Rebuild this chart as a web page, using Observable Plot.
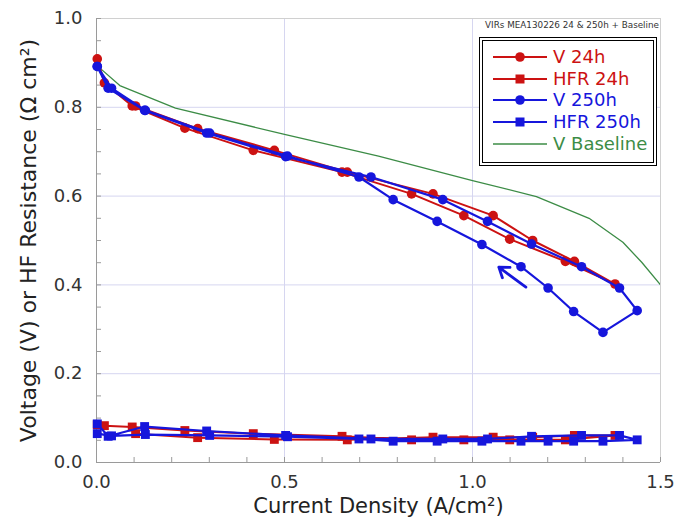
<!DOCTYPE html>
<html>
<head>
<meta charset="utf-8">
<script src="https://cdn.jsdelivr.net/npm/d3@7"></script>
<script src="https://cdn.jsdelivr.net/npm/@observablehq/plot@0.6"></script>
<style>
  html, body { margin: 0; padding: 0; background: #fff; }
  #wrap { position: relative; width: 691px; height: 521px; font-family: "DejaVu Sans", sans-serif; }
  #note { position: absolute; left: 484px; top: 20px; width: 175px; text-align: right; font-size: 8.8px; color: #333; white-space: nowrap; }
  #legend { position: absolute; left: 479px; top: 37px; width: 170px; height: 121px; border: 4px double #000; box-sizing: content-box; background: #fff; }
  .row { position: absolute; left: 8px; height: 22px; display: flex; align-items: center; }
  .row svg { width: 58px; height: 22px; }
  .row span { font-size: 18px; margin-left: 4px; line-height: 22px; }
</style>
</head>
<body>
<div id="wrap"></div>
<script>
// ---- data ----
const red = "#cc1212";
const blue = "#1616dc";
const green = "#3c8c46";

const v24_x = [0.002, 0.021, 0.095, 0.235, 0.417, 0.653, 0.838, 0.977, 1.099, 1.247, 1.379, 1.271, 1.160, 1.055, 0.895, 0.667, 0.473, 0.269, 0.104];
const v24_y = [0.909, 0.855, 0.803, 0.753, 0.703, 0.654, 0.605, 0.556, 0.503, 0.453, 0.402, 0.453, 0.500, 0.556, 0.605, 0.654, 0.703, 0.752, 0.803];
const hfr24_y = [0.085, 0.083, 0.080, 0.072, 0.065, 0.059, 0.051, 0.051, 0.051, 0.051, 0.061, 0.061, 0.057, 0.057, 0.057, 0.051, 0.052, 0.056, 0.065];

const v250_x = [0.002, 0.031, 0.128, 0.293, 0.503, 0.730, 0.921, 1.040, 1.157, 1.290, 1.391, 1.438, 1.347, 1.269, 1.201, 1.129, 1.025, 0.906, 0.789, 0.698, 0.508, 0.301, 0.130, 0.040, 0.002];
const v250_y = [0.892, 0.843, 0.793, 0.742, 0.689, 0.643, 0.592, 0.543, 0.492, 0.441, 0.393, 0.342, 0.293, 0.340, 0.393, 0.441, 0.491, 0.543, 0.592, 0.643, 0.690, 0.742, 0.793, 0.843, 0.892];
const hfr250_y = [0.087, 0.059, 0.081, 0.071, 0.061, 0.053, 0.053, 0.053, 0.059, 0.061, 0.061, 0.051, 0.048, 0.048, 0.048, 0.048, 0.048, 0.048, 0.048, 0.053, 0.058, 0.061, 0.063, 0.060, 0.065];

const base_x = [0.0, 0.062, 0.21, 0.5, 0.75, 1.0, 1.17, 1.31, 1.40, 1.45, 1.50];
const base_y = [0.895, 0.849, 0.798, 0.739, 0.690, 0.635, 0.599, 0.550, 0.496, 0.451, 0.400];

const arrowData = [{x1: 1.142, y1: 0.395, x2: 1.070, y2: 0.440}];

const xTicks = [0, 0.5, 1.0, 1.5];
const yTicks = [0, 0.2, 0.4, 0.6, 0.8, 1.0];
const xMinor = d3.range(0, 16).map(i => i / 10);
const yMinor = d3.range(0, 21).map(i => i / 20);
const xGrid = [0.5, 1.0];
const yGrid = [0.2, 0.4, 0.6, 0.8];

const legendItems = [
  {label: "V 24h", color: red, symbol: "circle"},
  {label: "HFR 24h", color: red, symbol: "square"},
  {label: "V 250h", color: blue, symbol: "circle"},
  {label: "HFR 250h", color: blue, symbol: "square"},
  {label: "V Baseline", color: green, symbol: null}
];

// ---- tables ----
const tbl = (xs, ys) => xs.map((x, i) => ({x, y: ys[i]}));
const v24 = tbl(v24_x, v24_y);
const hfr24 = tbl(v24_x, hfr24_y);
const v250 = tbl(v250_x, v250_y);
const hfr250 = tbl(v250_x, hfr250_y);
const base = tbl(base_x, base_y);

const chart = Plot.plot({
  width: 691,
  height: 521,
  marginLeft: 96,
  marginRight: 31,
  marginTop: 18,
  marginBottom: 59,
  style: {fontFamily: "DejaVu Sans, sans-serif", background: "#fff", color: "#333"},
  x: {domain: [0, 1.5]},
  y: {domain: [0, 1]},
  marks: [
    Plot.ruleX(xGrid, {stroke: "#d6d6f0", strokeWidth: 1}),
    Plot.ruleY(yGrid, {stroke: "#d6d6f0", strokeWidth: 1}),
    Plot.ruleY([1], {stroke: "#d0d0d0"}),
    Plot.ruleX([1.5], {stroke: "#d0d0d0"}),
    Plot.ruleX([0], {stroke: "#9a9a9a"}),
    Plot.ruleY([0], {stroke: "#9a9a9a"}),
    Plot.axisX({ticks: xMinor, tickSize: -5, tickFormat: () => "", stroke: "#9a9a9a", label: null}),
    Plot.axisY({ticks: yMinor, tickSize: -5, tickFormat: () => "", stroke: "#9a9a9a", label: null}),
    Plot.axisX({ticks: xTicks, tickSize: 0, tickPadding: 13, tickFormat: d3.format(".1f"), fontSize: 18, fill: "#333", label: null}),
    Plot.axisY({ticks: yTicks, tickSize: 0, tickPadding: 14, tickFormat: d3.format(".1f"), fontSize: 18, fill: "#333", label: null}),
    Plot.axisX({ticks: [], tickSize: 0, fontSize: 21, fill: "#222",
      label: "Current Density (A/cm²)", labelAnchor: "center", labelArrow: "none", labelOffset: 50}),
    Plot.axisY({ticks: [], tickSize: 0, fontSize: 22, fill: "#222",
      label: "Voltage (V) or HF Resistance (Ω cm²)", labelAnchor: "center", labelArrow: "none", labelOffset: 76}),
    Plot.line(base, {x: "x", y: "y", stroke: green, strokeWidth: 1.3, clip: true}),
    Plot.line(v24, {x: "x", y: "y", stroke: red, strokeWidth: 2}),
    Plot.dot(v24, {x: "x", y: "y", fill: red, r: 4.8, symbol: "circle"}),
    Plot.line(hfr24, {x: "x", y: "y", stroke: red, strokeWidth: 2}),
    Plot.dot(hfr24, {x: "x", y: "y", fill: red, r: 5, symbol: "square"}),
    Plot.line(v250, {x: "x", y: "y", stroke: blue, strokeWidth: 2.2}),
    Plot.dot(v250, {x: "x", y: "y", fill: blue, r: 4.8, symbol: "circle"}),
    Plot.line(hfr250, {x: "x", y: "y", stroke: blue, strokeWidth: 2.2}),
    Plot.dot(hfr250, {x: "x", y: "y", fill: blue, r: 5, symbol: "square"}),
    Plot.arrow(arrowData, {x1: "x1", y1: "y1", x2: "x2", y2: "y2", stroke: blue, strokeWidth: 2.8, headLength: 15, headAngle: 70})
  ]
});

const wrap = document.getElementById("wrap");
wrap.appendChild(chart);

// note above legend
const note = document.createElement("div");
note.id = "note";
note.textContent = "VIRs MEA130226 24 & 250h + Baseline";
wrap.appendChild(note);

// legend
const leg = document.createElement("div");
leg.id = "legend";
legendItems.forEach((d, i) => {
  const row = document.createElement("div");
  row.className = "row";
  row.style.top = (5 + i * 21.7) + "px";
  let sym = "";
  if (d.symbol === "circle") sym = `<circle cx="29" cy="11" r="4.8" fill="${d.color}"/>`;
  if (d.symbol === "square") sym = `<rect x="24.5" y="6.5" width="9" height="9" fill="${d.color}"/>`;
  const sw = d.symbol ? 2 : 1.3;
  row.innerHTML = `<svg viewBox="0 0 58 22"><line x1="2" y1="11" x2="56" y2="11" stroke="${d.color}" stroke-width="${sw}"/>${sym}</svg><span style="color:${d.color}">${d.label}</span>`;
  leg.appendChild(row);
});
wrap.appendChild(leg);
</script>
</body>
</html>
